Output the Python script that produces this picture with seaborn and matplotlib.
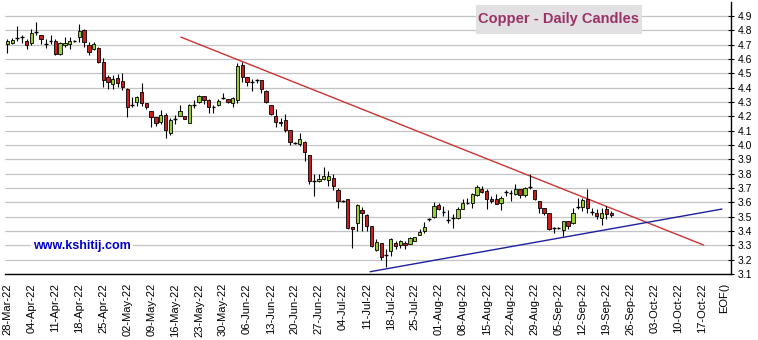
import numpy as np
import pandas as pd
import matplotlib
matplotlib.use("Agg")
import matplotlib.pyplot as plt
import seaborn as sns
from matplotlib.patches import Rectangle

# Daily copper prices (USD/lb), one entry per trading session starting 28-Mar-22
opens = [4.705, 4.714, 4.749, 4.756, 4.723, 4.709, 4.791, 4.767, 4.707, 4.723,
         4.726, 4.635, 4.695, 4.702, 4.728, 4.751, 4.802, 4.695, 4.667, 4.674,
         4.577, 4.472, 4.426, 4.470, 4.447, 4.388, 4.281, 4.302, 4.367, 4.293,
         4.237, 4.198, 4.158, 4.209, 4.086, 4.181, 4.205, 4.202, 4.156, 4.279,
         4.300, 4.340, 4.314, 4.267, 4.277, 4.328, 4.319, 4.291, 4.314, 4.556,
         4.472, 4.440, 4.456, 4.451, 4.374, 4.281, 4.205, 4.163, 4.177, 4.107,
         4.016, 4.007, 4.023, 3.933, 3.747, 3.747, 3.763, 3.758, 3.772, 3.684,
         3.609, 3.621, 3.430, 3.453, 3.544, 3.509, 3.435, 3.267, 3.314, 3.230,
         3.258, 3.319, 3.300, 3.319, 3.312, 3.328, 3.374, 3.400, 3.481, 3.498,
         3.579, 3.535, 3.477, 3.488, 3.488, 3.556, 3.598, 3.598, 3.649, 3.695,
         3.679, 3.626, 3.626, 3.593, 3.672, 3.667, 3.656, 3.691, 3.651, 3.707,
         3.684, 3.609, 3.563, 3.523, 3.419, 3.421, 3.405, 3.467, 3.458, 3.570,
         3.570, 3.621, 3.535, 3.523, 3.488, 3.556, 3.528]
highs = [4.737, 4.749, 4.830, 4.770, 4.737, 4.807, 4.856, 4.770, 4.737, 4.767,
         4.737, 4.721, 4.751, 4.756, 4.733, 4.844, 4.807, 4.721, 4.719, 4.686,
         4.605, 4.488, 4.486, 4.495, 4.505, 4.395, 4.337, 4.342, 4.430, 4.293,
         4.237, 4.198, 4.244, 4.226, 4.186, 4.209, 4.277, 4.202, 4.284, 4.314,
         4.349, 4.340, 4.323, 4.277, 4.321, 4.360, 4.321, 4.337, 4.574, 4.581,
         4.472, 4.463, 4.460, 4.451, 4.386, 4.281, 4.251, 4.188, 4.219, 4.107,
         4.019, 4.084, 4.030, 3.933, 3.798, 3.800, 3.847, 3.816, 3.800, 3.702,
         3.616, 3.626, 3.430, 3.586, 3.570, 3.516, 3.435, 3.342, 3.314, 3.272,
         3.353, 3.328, 3.337, 3.328, 3.360, 3.360, 3.412, 3.463, 3.493, 3.602,
         3.598, 3.574, 3.544, 3.516, 3.567, 3.621, 3.633, 3.667, 3.719, 3.714,
         3.691, 3.644, 3.656, 3.644, 3.684, 3.686, 3.730, 3.695, 3.709, 3.795,
         3.684, 3.609, 3.563, 3.523, 3.430, 3.426, 3.470, 3.467, 3.563, 3.633,
         3.633, 3.695, 3.563, 3.556, 3.563, 3.574, 3.540]
lows = [4.644, 4.702, 4.728, 4.709, 4.672, 4.698, 4.770, 4.705, 4.674, 4.705,
        4.628, 4.630, 4.681, 4.667, 4.721, 4.721, 4.686, 4.626, 4.663, 4.570,
        4.402, 4.391, 4.393, 4.407, 4.384, 4.198, 4.263, 4.272, 4.272, 4.249,
        4.128, 4.133, 4.147, 4.051, 4.070, 4.147, 4.200, 4.181, 4.151, 4.256,
        4.295, 4.284, 4.226, 4.221, 4.272, 4.319, 4.291, 4.263, 4.291, 4.442,
        4.409, 4.374, 4.433, 4.363, 4.293, 4.207, 4.126, 4.130, 4.093, 3.998,
        4.007, 3.991, 3.886, 3.730, 3.647, 3.740, 3.753, 3.712, 3.688, 3.563,
        3.605, 3.416, 3.284, 3.400, 3.400, 3.400, 3.288, 3.260, 3.198, 3.149,
        3.226, 3.272, 3.279, 3.272, 3.307, 3.328, 3.370, 3.388, 3.470, 3.493,
        3.547, 3.505, 3.458, 3.423, 3.481, 3.551, 3.586, 3.563, 3.644, 3.667,
        3.556, 3.593, 3.586, 3.547, 3.644, 3.609, 3.651, 3.633, 3.640, 3.691,
        3.616, 3.528, 3.509, 3.407, 3.388, 3.414, 3.365, 3.412, 3.451, 3.551,
        3.540, 3.528, 3.512, 3.481, 3.440, 3.486, 3.500]
closes = [4.726, 4.733, 4.749, 4.756, 4.695, 4.779, 4.791, 4.742, 4.707, 4.723,
          4.635, 4.709, 4.714, 4.723, 4.728, 4.798, 4.721, 4.651, 4.702, 4.581,
          4.451, 4.442, 4.463, 4.430, 4.407, 4.267, 4.281, 4.335, 4.291, 4.267,
          4.193, 4.156, 4.209, 4.105, 4.174, 4.181, 4.237, 4.184, 4.279, 4.279,
          4.340, 4.314, 4.263, 4.267, 4.307, 4.328, 4.298, 4.328, 4.549, 4.477,
          4.440, 4.440, 4.456, 4.391, 4.298, 4.216, 4.158, 4.153, 4.107, 4.019,
          4.016, 4.044, 3.949, 3.747, 3.747, 3.763, 3.781, 3.786, 3.712, 3.609,
          3.609, 3.419, 3.412, 3.579, 3.526, 3.435, 3.295, 3.323, 3.219, 3.230,
          3.347, 3.295, 3.328, 3.305, 3.353, 3.356, 3.393, 3.430, 3.481, 3.574,
          3.551, 3.535, 3.477, 3.488, 3.556, 3.593, 3.598, 3.656, 3.707, 3.674,
          3.626, 3.609, 3.591, 3.633, 3.672, 3.667, 3.695, 3.651, 3.702, 3.707,
          3.621, 3.563, 3.528, 3.412, 3.419, 3.421, 3.470, 3.435, 3.528, 3.570,
          3.616, 3.563, 3.535, 3.505, 3.523, 3.521, 3.509]

# Trend lines (bar index, price)
resistance_x = [36.2, 145.3]
resistance_y = [4.753, 3.302]
support_x = [75.7, 149.1]
support_y = [3.116, 3.553]

# Weekly date labels along the bar axis
week_labels = ["28-Mar-22", "04-Apr-22", "11-Apr-22", "18-Apr-22", "25-Apr-22",
               "02-May-22", "09-May-22", "16-May-22", "23-May-22", "30-May-22",
               "06-Jun-22", "13-Jun-22", "20-Jun-22", "27-Jun-22", "04-Jul-22",
               "11-Jul-22", "18-Jul-22", "25-Jul-22", "01-Aug-22", "08-Aug-22",
               "15-Aug-22", "22-Aug-22", "29-Aug-22", "05-Sep-22", "12-Sep-22",
               "19-Sep-22", "26-Sep-22", "03-Oct-22", "10-Oct-22", "17-Oct-22"]
end_label = "EOF()"

price_ticks = [3.1, 3.2, 3.3, 3.4, 3.5, 3.6, 3.7, 3.8, 3.9, 4.0,
               4.1, 4.2, 4.3, 4.4, 4.5, 4.6, 4.7, 4.8, 4.9]

sns.set_style("white")
plt.rcParams["font.family"] = ["Liberation Sans", "DejaVu Sans"]

W, H = 758, 340
fig = plt.figure(figsize=(W / 100, H / 100), dpi=100)
ax = fig.add_axes([5 / W, 66 / H, 726 / W, 272.3 / H])

df = pd.DataFrame({"open": opens, "high": highs, "low": lows, "close": closes})
df["bar"] = np.arange(len(df))
up = df[df.close > df.open]
down = df[df.close < df.open]
flat = df[df.close == df.open]

GREEN = "#9acd32"
RED = "#c81e1e"
body_w = 0.7

# trend lines
trend = pd.DataFrame({
    "bar": resistance_x + support_x,
    "price": resistance_y + support_y,
    "line": ["resistance"] * 2 + ["support"] * 2,
})
sns.lineplot(data=trend, x="bar", y="price", hue="line", units="line",
             estimator=None, palette={"resistance": "#cc3333", "support": "#1f1f9e"},
             legend=False, lw=1.0, ax=ax, zorder=2)

# wicks
ax.vlines(df.bar, df.low, df.high, color="black", lw=0.8, zorder=3)
# bodies
ax.bar(up.bar, up.close - up.open, bottom=up.open, width=body_w,
       color=GREEN, edgecolor="black", linewidth=0.6, zorder=4)
ax.bar(down.bar, down.open - down.close, bottom=down.close, width=body_w,
       color=RED, edgecolor="black", linewidth=0.6, zorder=4)
ax.hlines(flat.close, flat.bar - 0.4, flat.bar + 0.4, color="black", lw=1.0, zorder=4)

ax.set_xlim(-0.5, 151)
ax.set_ylim(3.1, 5.0)

# price axis on the right
ax.set_yticks(price_ticks)
ax.set_yticklabels([f"{p:.1f}" for p in price_ticks])
ax.yaxis.tick_right()
ax.tick_params(axis="y", direction="inout", length=5, width=0.8,
               labelsize=7.5, pad=2, colors="black", left=False, right=True)
ax.yaxis.grid(True, color="#c4c4c4", lw=0.9)
ax.xaxis.grid(False)
ax.set_axisbelow(True)

# date axis
xpos = list(np.arange(len(week_labels)) * 5) + [149.5]
ax.set_xticks(xpos)
ax.set_xticklabels(week_labels + [end_label], rotation=90, fontsize=8)
ax.tick_params(axis="x", length=0, pad=6.5, colors="black")
ax.set_xlabel("")
ax.set_ylabel("")

for side in ("left", "top"):
    ax.spines[side].set_visible(False)
for side in ("right", "bottom"):
    ax.spines[side].set_visible(True)
    ax.spines[side].set_color("black")
    ax.spines[side].set_linewidth(1.0)

# title box
fig.patches.append(Rectangle((476 / W, 1 - 34 / H), 166 / W, 29 / H,
                             transform=fig.transFigure, facecolor="#e2e0e2",
                             edgecolor="none", zorder=5))
fig.text(559 / W, 1 - 19.5 / H, "Copper - Daily Candles", ha="center", va="center",
         fontsize=10.5, fontweight="bold", color="#993366", zorder=6)

fig.text(81.5 / W, 1 - 246 / H, "www.kshitij.com", ha="center", va="center",
         fontsize=9, fontweight="bold", color="#0000cc", zorder=6,
         bbox=dict(facecolor="white", edgecolor="none", pad=1.5))

fig.savefig("out.png", dpi=100)
